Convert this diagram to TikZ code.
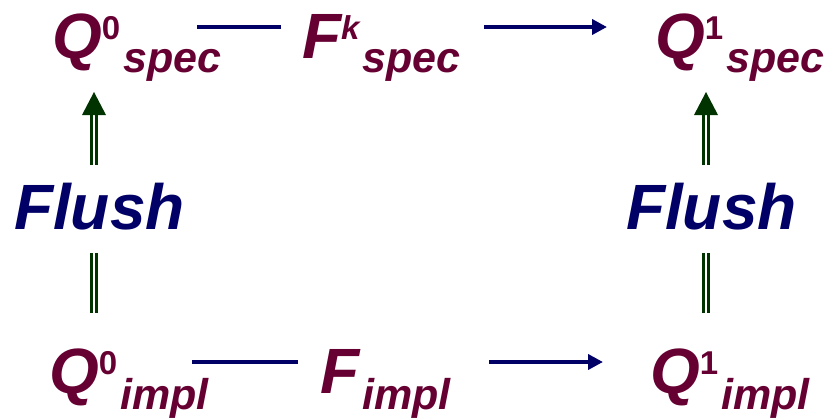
\documentclass[tikz,border=0pt]{standalone}
\usepackage{fontspec}
\setmainfont{Liberation Sans}
\usetikzlibrary{arrows.meta}
\definecolor{maroon}{RGB}{102,0,51}
\definecolor{navy}{RGB}{0,0,102}
\definecolor{dgreen}{RGB}{0,51,0}
\newcommand\Mainsz{\fontsize{64}{64}\selectfont}
\newcommand\Supsz{\fontsize{33}{33}\selectfont}
\newcommand\Subsz{\fontsize{43}{43}\selectfont}
\newcommand\mylbl[4]{{\Mainsz #1}\raisebox{19pt}{\Supsz #2}\hspace{3pt}\raisebox{-#4pt}{\Subsz #3}}
\begin{document}
\begin{tikzpicture}[x=1pt,y=-1pt,
  lbl/.style={anchor=base west, inner sep=0pt, outer sep=0pt, text=maroon, font=\bfseries\itshape},
  flushlbl/.style={anchor=base west, inner sep=0pt, outer sep=0pt, text=navy, font=\bfseries\itshape\fontsize{64}{64}\selectfont},
  hconn/.style={draw=navy, line width=4pt},
  harrow/.style={draw=navy, line width=4pt, -{Triangle[length=15pt,width=15pt]}},
  dbl/.style={draw=dgreen, line width=2.7pt, double=white, double distance=2.4pt},
  headfill/.style={fill=dgreen}]
\useasboundingbox (0,0) rectangle (827,418);
\fill[white] (0,0) rectangle (827,418);
% labels
\node[lbl] (q0s) at (52,58) {\mylbl{Q}{\upshape 0}{spec}{14}};
\node[lbl] (fks) at (302,58) {\mylbl{F}{k}{spec}{14}};
\node[lbl] (q1s) at (655,58) {\mylbl{Q}{\upshape 1}{spec}{14}};
\node[lbl] (q0i) at (49,393) {\mylbl{Q}{\upshape 0}{impl}{16}};
\node[lbl] (fi) at (320,393) {\mylbl{F}{}{impl}{16}};
\node[lbl] (q1i) at (650,393) {\mylbl{Q}{\upshape 1}{impl}{16}};
\node[flushlbl] (fl1) at (14,229) {Flush};
\node[flushlbl] (fl2) at (626,229) {Flush};
% horizontal connectors
\coordinate (t1a) at (197,27); \coordinate (t1b) at (281,27);
\coordinate (t2a) at (484,27); \coordinate (t2b) at (607,27);
\coordinate (b1a) at (192,362); \coordinate (b1b) at (298,362);
\coordinate (b2a) at (489,362); \coordinate (b2b) at (603,362);
\draw[hconn] (t1a) -- (t1b);
\draw[harrow] (t2a) -- (t2b);
\draw[hconn] (b1a) -- (b1b);
\draw[harrow] (b2a) -- (b2b);
% vertical double connectors
\foreach \n/\x in {l/94, r/706} {
  \coordinate (\n lo1) at (\x,313);
  \coordinate (\n lo2) at (\x,253);
  \coordinate (\n up1) at (\x,165);
  \coordinate (\n up2) at (\x,113);
  \coordinate (\n tip) at (\x,92);
  \draw[dbl] (\n lo1) -- (\n lo2);
  \draw[dbl] (\n up1) -- (\n up2);
  \fill[headfill] (\n tip) -- ([xshift=-12pt,yshift=-23pt]\n tip) -- ([xshift=12pt,yshift=-23pt]\n tip) -- cycle;
}
\end{tikzpicture}
\end{document}
